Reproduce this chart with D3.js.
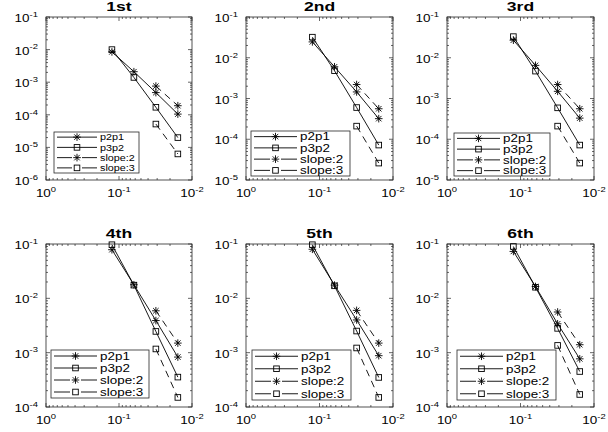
<!DOCTYPE html>
<html>
<head>
<meta charset="utf-8">
<script src="https://cdn.jsdelivr.net/npm/d3@7"></script>
<style>
  body { margin: 0; background: #fff; }
  svg { display: block; }
  text { font-family: "Liberation Sans", Arial, Helvetica, sans-serif; fill: #000; }
</style>
</head>
<body>
<svg id="chart" width="608" height="432"></svg>
<script>
// mesh sizes (x axis) and the two slope reference points
var h = [0.125, 0.0625, 0.03125, 0.015625];
var hSlope = [0.03125, 0.015625];

var titles = ["1st", "2nd", "3rd", "4th", "5th", "6th"];
var legendLabels = ["p2p1", "p3p2", "slope:2", "slope:3"];

// errors, one array per subplot
var p2p1 = [
  [8.5e-3, 2.1e-3, 4.8e-4, 1.05e-4],
  [2.45e-2, 6.0e-3, 1.45e-3, 3.2e-4],
  [2.7e-2, 6.5e-3, 1.5e-3, 3.3e-4],
  [7.85e-2, 1.78e-2, 3.9e-3, 8.3e-4],
  [8.0e-2, 1.75e-2, 4.0e-3, 8.8e-4],
  [7.3e-2, 1.65e-2, 3.4e-3, 7.7e-4]
];
var p3p2 = [
  [1.0e-2, 1.4e-3, 1.7e-4, 2.0e-5],
  [3.2e-2, 4.8e-3, 6.0e-4, 7.2e-5],
  [3.3e-2, 4.7e-3, 5.9e-4, 7.2e-5],
  [9.7e-2, 1.75e-2, 2.46e-3, 3.55e-4],
  [9.7e-2, 1.7e-2, 2.5e-3, 3.5e-4],
  [9.0e-2, 1.6e-2, 2.8e-3, 4.5e-4]
];
var slope2 = [
  [7.6e-4, 1.9e-4],
  [2.2e-3, 5.6e-4],
  [2.2e-3, 5.6e-4],
  [5.9e-3, 1.5e-3],
  [6.0e-3, 1.5e-3],
  [5.6e-3, 1.4e-3]
];
var slope3 = [
  [5.2e-5, 6.3e-6],
  [2.1e-4, 2.6e-5],
  [2.1e-4, 2.6e-5],
  [1.17e-3, 1.5e-4],
  [1.22e-3, 1.5e-4],
  [1.36e-3, 1.7e-4]
];

// y axis decades (exponents) for each subplot, x axis decades shared
var yExp = [[-6, -1], [-5, -1], [-5, -1], [-4, -1], [-4, -1], [-4, -1]];
var xExp = [-2, 0];

// ---- layout ----
var cols = [[46, 192], [246, 393], [447, 594]];
var rows = [[17, 180], [244, 407]];
var legBox = [  // left offset, width, height, bottom gap
  [8, 85, 41, 7], [5, 99, 45, 4], [7, 96, 43, 4],
  [5, 98, 48, 9], [6, 99, 50, 7], [10, 99, 50, 7]
];
var STRETCH = 1.35;

var svg = d3.select("#chart");

function starPath(x, y, r) {
  var d = r * 0.72;
  return "M" + (x - r) + "," + y + "L" + (x + r) + "," + y +
         "M" + x + "," + (y - r) + "L" + x + "," + (y + r) +
         "M" + (x - d) + "," + (y - d) + "L" + (x + d) + "," + (y + d) +
         "M" + (x - d) + "," + (y + d) + "L" + (x + d) + "," + (y - d);
}

function drawMarker(g, kind, x, y) {
  if (kind == "star") {
    g.append("path").attr("d", starPath(x, y, 3.8))
      .attr("stroke", "#000").attr("stroke-width", 0.9).attr("fill", "none");
  } else {
    g.append("rect").attr("x", x - 2.8).attr("y", y - 2.8)
      .attr("width", 5.6).attr("height", 5.6)
      .attr("stroke", "#000").attr("stroke-width", 0.9).attr("fill", "none");
  }
}

// "10" with a superscript exponent, stretched horizontally like the original
function powerLabel(g, x, y, exp, anchor) {
  var t = g.append("g").attr("transform", "translate(" + x + "," + y + ") scale(" + STRETCH + ",1)")
    .append("text").attr("text-anchor", anchor).style("font-size", "10px");
  t.append("tspan").text("10");
  t.append("tspan").attr("dy", -5.2).style("font-size", "7px").text(exp < 0 ? "-" + (-exp) : exp);
}

titles.forEach(function(title, i) {
  var c = cols[i % 3], r = rows[Math.floor(i / 3)];
  var left = c[0], right = c[1], top = r[0], bottom = r[1];

  var x = d3.scaleLog().domain([Math.pow(10, xExp[1]), Math.pow(10, xExp[0])]).range([left, right]);
  var y = d3.scaleLog().domain([Math.pow(10, yExp[i][0]), Math.pow(10, yExp[i][1])]).range([bottom, top]);

  var g = svg.append("g").attr("class", "subplot");

  // ticks (inward, on all four sides, like a boxed matlab axes)
  var ticks = g.append("g").attr("stroke", "#262626").attr("stroke-width", 0.7);
  for (var e = xExp[0]; e <= xExp[1]; e++) {
    for (var m = 1; m <= 9; m++) {
      var v = m * Math.pow(10, e);
      if (e == xExp[1] && m > 1) break;
      var len = m == 1 ? 4 : 2;
      var px = x(v);
      ticks.append("line").attr("x1", px).attr("x2", px).attr("y1", bottom).attr("y2", bottom - len);
      ticks.append("line").attr("x1", px).attr("x2", px).attr("y1", top).attr("y2", top + len);
    }
  }
  for (var e = yExp[i][0]; e <= yExp[i][1]; e++) {
    for (var m = 1; m <= 9; m++) {
      var v = m * Math.pow(10, e);
      if (e == yExp[i][1] && m > 1) break;
      var len = m == 1 ? 4 : 2;
      var py = y(v);
      ticks.append("line").attr("y1", py).attr("y2", py).attr("x1", left).attr("x2", left + len);
      ticks.append("line").attr("y1", py).attr("y2", py).attr("x1", right).attr("x2", right - len);
    }
  }

  g.append("rect").attr("x", left).attr("y", top)
    .attr("width", right - left).attr("height", bottom - top)
    .attr("fill", "none").attr("stroke", "#262626").attr("stroke-width", 0.8);

  // tick labels
  for (var e = xExp[0]; e <= xExp[1]; e++) {
    powerLabel(g, x(Math.pow(10, e)), bottom + 17, e, "middle");
  }
  for (var e = yExp[i][0]; e <= yExp[i][1]; e++) {
    powerLabel(g, left - 8, y(Math.pow(10, e)) + 5, e, "end");
  }

  // title
  g.append("g").attr("transform", "translate(" + ((left + right) / 2) + "," + (top - 6.5) + ") scale(" + STRETCH + ",1)")
    .append("text").attr("text-anchor", "middle")
    .style("font-size", "13px").style("font-weight", "bold").text(title);

  // data
  var line = d3.line().x(function(d) { return x(d[0]); }).y(function(d) { return y(d[1]); });
  var series = [
    { pts: d3.zip(h, p2p1[i]), kind: "star", dash: null },
    { pts: d3.zip(h, p3p2[i]), kind: "square", dash: null },
    { pts: d3.zip(hSlope, slope2[i]), kind: "star", dash: "7,5" },
    { pts: d3.zip(hSlope, slope3[i]), kind: "square", dash: "7,5" }
  ];
  series.forEach(function(s) {
    g.append("path").attr("d", line(s.pts))
      .attr("fill", "none").attr("stroke", "#000").attr("stroke-width", 0.9)
      .attr("stroke-dasharray", s.dash);
    s.pts.forEach(function(p) { drawMarker(g, s.kind, x(p[0]), y(p[1])); });
  });

  // legend
  var lb = legBox[i];
  var lx = left + lb[0], lw = lb[1], lh = lb[2], ly = bottom - lb[3] - lh;
  var leg = g.append("g");
  leg.append("rect").attr("x", lx).attr("y", ly).attr("width", lw).attr("height", lh)
    .attr("fill", "#fff").attr("stroke", "#262626").attr("stroke-width", 0.8);
  var sampleW = i == 0 ? 40 : 43;
  var fs = i == 0 ? 9 : 10.5;
  var fstretch = i == 0 ? 1.2 : 1.28;
  var legDash = i == 0 ? "15,10" : "16,11";
  series.forEach(function(s, k) {
    var ry = ly + lh * (k + 0.5) / 4;
    leg.append("line").attr("x1", lx + 3).attr("x2", lx + 3 + sampleW)
      .attr("y1", ry).attr("y2", ry)
      .attr("stroke", "#000").attr("stroke-width", 0.9)
      .attr("stroke-dasharray", s.dash ? legDash : null);
    drawMarker(leg, s.kind, lx + 3 + sampleW / 2, ry);
    leg.append("g").attr("transform", "translate(" + (lx + sampleW + 6) + "," + (ry + fs * 0.36) + ") scale(" + fstretch + ",1)")
      .append("text").style("font-size", fs + "px").text(legendLabels[k]);
  });
});
</script>
</body>
</html>
